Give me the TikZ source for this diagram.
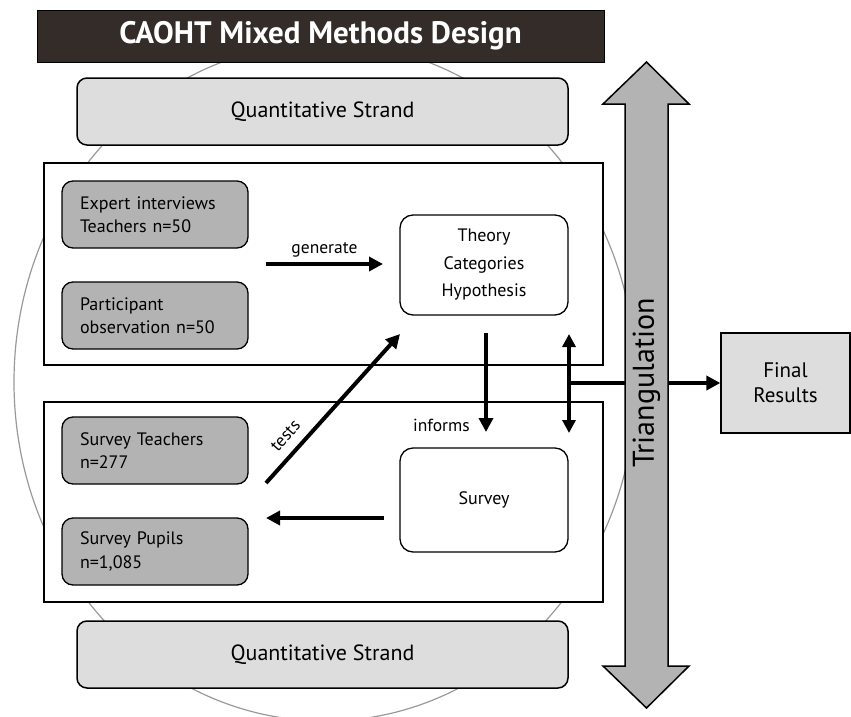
\documentclass[tikz,border=0pt]{standalone}
\usepackage{fontspec}
\setmainfont{PT Sans}
\usetikzlibrary{arrows.meta}

\definecolor{titlegray}{HTML}{332C28}
\definecolor{strandgray}{HTML}{DDDDDD}
\definecolor{boxgray}{HTML}{B3B3B3}

\begin{document}
\begin{tikzpicture}[x=1pt,y=-1pt,
    titlebar/.style={fill=titlegray, draw=black, line width=0.8pt, text=white,
      font=\fontsize{31}{34}\selectfont\bfseries, minimum width=567pt, minimum height=52pt, inner sep=0pt},
    strand/.style={draw=black, line width=1.5pt, fill=strandgray, rounded corners=10pt,
      minimum width=491pt, minimum height=67pt, font=\fontsize{22}{25}\selectfont},
    panel/.style={draw=black, line width=1.3pt, fill=white, minimum width=559pt},
    datum/.style={draw=black, line width=1.3pt, fill=boxgray, rounded corners=11pt,
      minimum height=67pt, text width=150pt, align=left, inner xsep=18pt,
      font=\fontsize{18}{23.5}\selectfont},
    result/.style={draw=black, line width=1.3pt, fill=white, rounded corners=13pt,
      minimum width=168pt, align=center, font=\fontsize{18}{27.5}\selectfont},
    flow/.style={line width=4pt, -{Triangle[length=14pt,width=14pt]}},
    label/.style={font=\fontsize{17.5}{20}\selectfont}]

    \useasboundingbox (0,0) rectangle (851,717);

    % background ring
    \draw[black!40, line width=1.2pt] (325,382) ellipse [x radius=311, y radius=339];

    \node[titlebar] (title) at (320.5,36) {CAOHT Mixed Methods Design};

    \node[strand] (qtop) at (322.5,111.5) {Quantitative Strand};
    \node[strand] (qbot) at (322.5,654.5) {Quantitative Strand};

    \node[panel, minimum height=202pt] (qual) at (323.5,264) {};
    \node[panel, minimum height=200pt] (quan) at (323.5,502) {};

    \node[datum] (expert) at (155,214.5) {Expert interviews\\Teachers n=50};
    \node[datum] (observe) at (155,315.5) {Participant\\observation n=50};
    \node[datum] (teachers) at (155,450.5) {Survey Teachers\\n=277};
    \node[datum] (pupils) at (155,551.5) {Survey Pupils\\n=1,085};

    \node[result, minimum height=100pt] (theory) at (484,265) {Theory\\Categories\\Hypothesis};
    \node[result, minimum height=104pt] (survey) at (484,500) {Survey};

    % triangulation arrow
    \draw[fill=boxgray, line width=1.5pt, line join=miter]
      (646.5,62) -- (689,104) -- (668,104) -- (668,666) -- (689,666) -- (646.5,708)
      -- (603,666) -- (625,666) -- (625,104) -- (603,104) -- cycle;
    \node[rotate=90, minimum width=562pt, minimum height=43pt, inner sep=0pt,
      font=\fontsize{30}{34}\selectfont] (tri) at (646.5,383) {Triangulation};

    \node[draw=black, line width=1.3pt, fill=strandgray, minimum width=129pt, minimum height=100pt,
      align=center, font=\fontsize{21}{25}\selectfont] (final) at (785.5,383) {Final\\Results};

    \coordinate (g1) at (266,264);
    \coordinate (g2) at (383,264);
    \coordinate (i1) at (486,333);
    \coordinate (i2) at (486,432);
    \coordinate (t1) at (266,483);
    \coordinate (t2) at (400,334);
    \coordinate (s1) at (384,518);
    \coordinate (s2) at (266,518);
    \coordinate (d1) at (569,334);
    \coordinate (d2) at (569,433);
    \coordinate (join) at (569,383);

    \draw[flow] (g1) -- node[label, above=1pt] {generate} (g2);
    \draw[flow] (i1) -- node[label, pos=0.93, left=11pt] {informs} (i2);
    \draw[flow] (t1) -- node[label, pos=0.24, sloped, above=6pt] {tests} (t2);
    \draw[flow] (s1) -- (s2);
    \draw[line width=4pt, {Triangle[length=13pt,width=13pt]}-{Triangle[length=13pt,width=13pt]}] (d1) -- (d2);
    \draw[line width=4pt] (join) -- (join -| tri.north);
    \draw[flow] (tri.south) -- (final.west);

\end{tikzpicture}
\end{document}
